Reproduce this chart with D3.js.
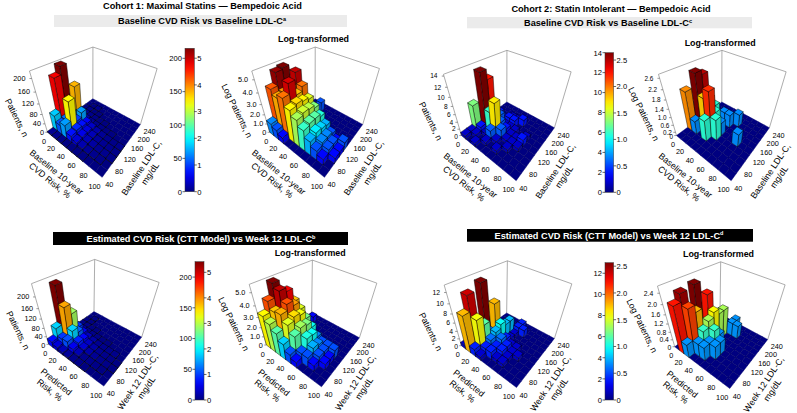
<!DOCTYPE html>
<html>
<head>
<meta charset="utf-8">
<script src="https://cdn.jsdelivr.net/npm/d3@7"></script>
<style>
  body { margin: 0; background: #fff; }
  svg { display: block; }
  text { font-family: "Liberation Sans", Arial, sans-serif; fill: #000; }
</style>
</head>
<body>
<svg id="chart" width="797" height="413"></svg>
<script>
// ---------- data ----------
// risk bins (lower edge, %) and LDL-C bins (lower edge, mg/dL)
const riskBins = [0, 10, 20, 30, 40, 50, 60, 70, 80, 90];
const ldlBins = [40, 60, 80, 100, 120, 140, 160, 180, 200, 220];
const riskTicks = [0, 20, 40, 60, 80, 100];
const ldlTicks = [40, 80, 120, 160, 200, 240];

// patient counts, rows = risk bin, columns = LDL-C bin
const cohort1Baseline = [
  [ 4, 70, 190, 215,  30,  6, 2, 1, 0, 0],
  [ 3, 45,  50,  60, 150, 10, 4, 2, 1, 0],
  [ 2, 60, 135,  40,  60,  8, 3, 1, 3, 0],
  [ 1, 30,  35,  30,  25,  5, 2, 1, 0, 0],
  [ 1, 18,  22,  20,  15,  3, 1, 0, 0, 0],
  [ 1, 10,  12,  12,   9,  2, 1, 0, 0, 0],
  [ 1,  5,   7,   6,   5,  1, 0, 0, 0, 0],
  [ 0,  3,   4,   4,   3,  1, 0, 0, 0, 0],
  [ 0,  2,   3,   3,   2,  0, 0, 0, 0, 0],
  [ 0,  0,   2,   2,   3,  0, 0, 0, 0, 0]
];
const cohort1Week12 = [
  [30, 75, 225,  90, 30, 6, 2, 1, 0, 0],
  [20, 40, 160, 120, 40, 6, 2, 1, 2, 0],
  [12, 45,  75,  50, 25, 4, 1, 0, 0, 0],
  [ 6, 25,  35,  28, 14, 3, 1, 0, 0, 0],
  [ 3, 12,  18,  15,  8, 2, 0, 0, 0, 0],
  [ 2,  3,   9,   8,  4, 1, 0, 0, 0, 0],
  [ 1,  3,   5,   4,  3, 1, 0, 0, 0, 0],
  [ 0,  2,   3,   3,  3, 0, 0, 0, 0, 0],
  [ 0,  1,   2,   2,  3, 0, 0, 0, 0, 0],
  [ 0,  0,   1,   1,  0, 0, 0, 0, 0, 0]
];
const cohort2Baseline = [
  [1, 1, 7,  3,  1, 0, 0, 0, 0, 0],
  [0, 1, 2, 14, 12, 1, 2, 0, 0, 0],
  [1, 0, 1,  6,  5, 3, 1, 0, 0, 0],
  [0, 1, 3,  9,  3, 1, 2, 1, 0, 0],
  [0, 0, 1,  3,  2, 1, 2, 1, 0, 0],
  [0, 1, 0,  1,  1, 1, 0, 2, 0, 0],
  [0, 0, 1,  1,  1, 0, 0, 0, 0, 0],
  [0, 0, 0,  1,  2, 1, 0, 0, 0, 0],
  [0, 0, 0,  0,  0, 0, 0, 0, 0, 0],
  [0, 0, 0,  0,  0, 0, 0, 0, 0, 0]
];
const cohort2Week12 = [
  [1,  2, 3,  2, 1, 0, 0, 0, 0, 0],
  [9, 12, 3, 13, 4, 1, 0, 0, 0, 0],
  [2,  8, 6,  3, 9, 1, 1, 0, 0, 0],
  [1,  2, 3,  4, 5, 4, 4, 0, 0, 0],
  [0,  2, 2,  3, 2, 1, 1, 2, 2, 0],
  [0,  1, 2,  2, 1, 0, 0, 2, 0, 0],
  [0,  1, 1,  1, 1, 0, 0, 0, 0, 0],
  [0,  0, 0,  1, 0, 0, 0, 0, 0, 0],
  [0,  0, 0,  0, 0, 0, 0, 0, 0, 0],
  [0,  0, 0,  0, 0, 0, 0, 0, 0, 0]
];

// z-axis ticks
const zTicksC1Top = [0, 40, 80, 120, 160, 200];
const zTicksC1TopLog = [0, 1, 2, 3, 4, 5];
const zTicksC2Top = [0, 2, 4, 6, 8, 10, 12, 14];
const zTicksC2TopLog = [0, 0.2, 0.6, 1.0, 1.4, 1.8, 2.2, 2.6];
const zTicksC1Bot = [0, 40, 80, 120, 160, 200];
const zTicksC1BotLog = [0, 1, 2, 3, 4, 5];
const zTicksC2Bot = [0, 2, 4, 6, 8, 10, 12];
const zTicksC2BotLog = [0, 0.4, 0.8, 1.2, 1.6, 2.0, 2.4];

// colorbar ticks
const cbarTicksC1 = [0, 50, 100, 150, 200];
const cbarLogTicksC1 = [0, 1, 2, 3, 4, 5];
const cbarTicksC2Top = [0, 2, 4, 6, 8, 10, 12, 14];
const cbarTicksC2Bot = [0, 2, 4, 6, 8, 10, 12];
const cbarLogTicksC2 = [0, 0.5, 1.0, 1.5, 2.0, 2.5];

// ---------- projection ----------
// plot box corners (unit cube) and where they land on screen, relative to the back top corner
const boxWorld = [[0,0,0],[1,0,0],[1,1,0],[0,1,0],[0,0,1],[1,1,1],[0,1,1]];
const boxScreen = [
  [[-45,85.5],[9,131],[48,77],[0,52.5],[-63,24],[64.5,22.5],[0,0]],
  [[-45,85.5],[9,127],[48,77],[0,52.5],[-62,23.5],[65.5,24],[0,0]]
];

// least squares fit of a 3x4 perspective camera matrix (DLT)
function fitProjection(world, screen) {
  const n = 11;
  const M = Array.from({length: n}, () => new Array(n + 1).fill(0));
  const addRow = (r, b) => {
    for (let a = 0; a < n; a++) {
      for (let c = 0; c < n; c++) M[a][c] += r[a] * r[c];
      M[a][n] += r[a] * b;
    }
  };
  world.forEach(([X, Y, Z], k) => {
    const [u, v] = screen[k];
    addRow([X, Y, Z, 1, 0, 0, 0, 0, -u * X, -u * Y, -u * Z], u);
    addRow([0, 0, 0, 0, X, Y, Z, 1, -v * X, -v * Y, -v * Z], v);
  });
  for (let c = 0; c < n; c++) {
    let p = c;
    for (let r = c + 1; r < n; r++) if (Math.abs(M[r][c]) > Math.abs(M[p][c])) p = r;
    [M[c], M[p]] = [M[p], M[c]];
    for (let r = 0; r < n; r++) {
      if (r === c) continue;
      const f = M[r][c] / M[c][c];
      for (let k = c; k <= n; k++) M[r][k] -= f * M[c][k];
    }
  }
  const p = M.map((r, i) => r[n] / r[i]);
  return (X, Y, Z) => {
    const w = p[8] * X + p[9] * Y + p[10] * Z + 1;
    return [(p[0] * X + p[1] * Y + p[2] * Z + p[3]) / w,
            (p[4] * X + p[5] * Y + p[6] * Z + p[7]) / w];
  };
}
const projections = boxScreen.map(s => fitProjection(boxWorld, s));

// MATLAB style jet colormap
function jet(t) {
  const cl = v => Math.max(0, Math.min(1, v));
  const r = cl(Math.min(4 * t - 1.5, -4 * t + 4.5));
  const g = cl(Math.min(4 * t - 0.5, -4 * t + 3.5));
  const b = cl(Math.min(4 * t + 0.5, -4 * t + 2.5));
  return d3.rgb(r * 255, g * 255, b * 255);
}

const svg = d3.select('#chart');
const FONT_TICK = 7.3;
const FONT_LABEL = 8.8;

// ---------- panels ----------
const xTitleTop = ['Baseline 10-year', 'CVD Risk, %'];
const yTitleTop = ['Baseline LDL-C,', 'mg/dL'];
const xTitleBot = ['Predicted', 'Risk, %'];
const yTitleBot = ['Week 12 LDL-C,', 'mg/dL'];

const panels = [
  {counts: cohort1Baseline, log: false, row: 0, origin: [92.7, 46.7], zmax: 220, zTicks: zTicksC1Top, zFont: FONT_TICK},
  {counts: cohort1Baseline, log: true,  row: 0, origin: [315, 46.7],  zmax: 5.6, zTicks: zTicksC1TopLog, zFont: FONT_TICK},
  {counts: cohort2Baseline, log: false, row: 0, origin: [506.7, 50],  zmax: 14.3, zTicks: zTicksC2Top, zFont: 6.6},
  {counts: cohort2Baseline, log: true,  row: 0, origin: [721.7, 50],  zmax: 2.73, zTicks: zTicksC2TopLog, zFont: 6.4},
  {counts: cohort1Week12, log: false, row: 1, origin: [94, 259.3],    zmax: 240, zTicks: zTicksC1Bot, zFont: FONT_TICK},
  {counts: cohort1Week12, log: true,  row: 1, origin: [311.7, 260],   zmax: 5.57, zTicks: zTicksC1BotLog, zFont: FONT_TICK},
  {counts: cohort2Week12, log: false, row: 1, origin: [506.7, 260.7], zmax: 13.2, zTicks: zTicksC2Bot, zFont: 6.8},
  {counts: cohort2Week12, log: true,  row: 1, origin: [720, 261.7],   zmax: 2.63, zTicks: zTicksC2BotLog, zFont: 6.8}
];

function signedArea(pts) {
  let s = 0;
  pts.forEach((p, k) => { const q = pts[(k + 1) % pts.length]; s += p[0] * q[1] - q[0] * p[1]; });
  return s;
}

function multiLine(g, lines, cx, cy, angle, size, lh) {
  const t = g.append('text')
    .attr('transform', `translate(${cx},${cy}) rotate(${angle})`)
    .attr('text-anchor', 'middle')
    .attr('font-size', size);
  lines.forEach((s, k) => t.append('tspan')
    .attr('x', 0)
    .attr('y', (k - (lines.length - 1) / 2) * lh + size * 0.35)
    .text(s));
}

function drawPanel(p) {
  const g = svg.append('g').attr('transform', `translate(${p.origin[0]},${p.origin[1]})`);
  const proj = projections[p.row];
  const xS = d3.scaleLinear().domain([0, 100]).range([0, 1]);
  const yS = d3.scaleLinear().domain([40, 240]).range([0, 1]);
  const zS = d3.scaleLinear().domain([0, p.zmax]).range([0, 1]);
  const pt = (x, y, z) => proj(xS(x), yS(y), zS(z));

  const maxCount = d3.max(p.counts.flat());
  const vmax = p.log ? Math.log(maxCount) : maxCount;
  const color = d3.scaleSequential(jet).domain([0, vmax]);
  const val = c => p.log ? (c > 0 ? Math.log(c) : 0) : c;

  // back walls of the plot box
  const line = d3.line();
  const edges = [
    [[0, 40, 0], [0, 40, p.zmax]],
    [[0, 240, 0], [0, 240, p.zmax]],
    [[100, 240, 0], [100, 240, p.zmax]],
    [[0, 40, p.zmax], [0, 240, p.zmax]],
    [[0, 240, p.zmax], [100, 240, p.zmax]]
  ];
  g.selectAll('path.edge').data(edges).join('path')
    .attr('class', 'edge')
    .attr('d', e => line(e.map(c => pt(...c))))
    .attr('stroke', '#8a8a8a').attr('stroke-width', 0.7).attr('fill', 'none');

  const refSign = Math.sign(signedArea([pt(0, 40, p.zmax), pt(100, 40, p.zmax), pt(100, 240, p.zmax), pt(0, 240, p.zmax)]));

  // cells
  const cells = [];
  riskBins.forEach((rx, i) => ldlBins.forEach((ly, j) => {
    cells.push({i, j, x0: rx, x1: rx + 10, y0: ly, y1: ly + 20, v: val(p.counts[i][j])});
  }));
  const flat = cells.filter(c => c.v <= 0);
  const bars = cells.filter(c => c.v > 0).sort((a, b) => (a.i - a.j) - (b.i - b.j));

  const floorG = g.append('g');
  const cellPath = c => line([pt(c.x0, c.y0, 0), pt(c.x1, c.y0, 0), pt(c.x1, c.y1, 0), pt(c.x0, c.y1, 0)]) + 'Z';
  floorG.selectAll('path.cell').data(flat).join('path')
    .attr('class', 'cell')
    .attr('d', cellPath)
    .attr('fill', color(0))
    .attr('stroke', color(0)).attr('stroke-width', 0.4);
  floorG.selectAll('path.grid').data(flat).join('path')
    .attr('class', 'grid')
    .attr('d', cellPath)
    .attr('fill', 'none')
    .attr('stroke', '#000').attr('stroke-opacity', 0.22).attr('stroke-width', 0.3);

  const barG = g.append('g');
  bars.forEach(c => {
    const h = c.v;
    const faces = [
      {shade: 0.84, pts: [[c.x1, c.y0, 0], [c.x1, c.y1, 0], [c.x1, c.y1, h], [c.x1, c.y0, h]]},
      {shade: 0.84, pts: [[c.x0, c.y0, 0], [c.x0, c.y0, h], [c.x0, c.y1, h], [c.x0, c.y1, 0]]},
      {shade: 0.95, pts: [[c.x0, c.y0, 0], [c.x1, c.y0, 0], [c.x1, c.y0, h], [c.x0, c.y0, h]]},
      {shade: 0.95, pts: [[c.x0, c.y1, 0], [c.x0, c.y1, h], [c.x1, c.y1, h], [c.x1, c.y1, 0]]},
      {shade: 1.0,  pts: [[c.x0, c.y0, h], [c.x1, c.y0, h], [c.x1, c.y1, h], [c.x0, c.y1, h]]}
    ];
    const base = d3.rgb(color(h));
    faces.forEach(f => {
      const sp = f.pts.map(q => pt(...q));
      if (Math.sign(signedArea(sp)) !== refSign) return;
      const col = d3.rgb(base.r * f.shade, base.g * f.shade, base.b * f.shade);
      barG.append('path')
        .attr('d', line(sp) + 'Z')
        .attr('fill', col)
        .attr('stroke', '#000').attr('stroke-width', 0.45)
        .attr('stroke-linejoin', 'round');
    });
  });

  // z axis ticks and labels
  const fmt = v => v === 0 ? '0' : (p.log ? d3.format('.1f')(v) : String(v));
  p.zTicks.forEach(t => {
    const [x, y] = pt(0, 40, t);
    const off = 3.5 + 3 * zS(t);
    g.append('line').attr('x1', x).attr('y1', y).attr('x2', x - 2.2).attr('y2', y)
      .attr('stroke', '#555').attr('stroke-width', 0.6);
    g.append('text').attr('x', x - off).attr('y', y + (t === 0 ? 3.2 : 2.3))
      .attr('text-anchor', 'end').attr('font-size', p.zFont).text(fmt(t));
  });
  // risk axis labels
  riskTicks.forEach(t => {
    const [x, y] = pt(t, 40, 0);
    g.append('text').attr('x', x - 1.5).attr('y', y + 11.5)
      .attr('text-anchor', 'end').attr('font-size', FONT_TICK).text(t);
  });
  // LDL axis labels
  ldlTicks.forEach(t => {
    const [x, y] = pt(100, t, 0);
    g.append('text').attr('x', x + 3).attr('y', y + 10)
      .attr('text-anchor', 'start').attr('font-size', FONT_TICK).text(t);
  });

  // axis titles
  const top = p.row === 0;
  multiLine(g, top ? xTitleTop : xTitleBot, top ? -39.5 : -41, top ? 129.5 : 126.5, 39, FONT_LABEL, 10.5);
  multiLine(g, top ? yTitleTop : yTitleBot, top ? 53 : 48, top ? 124 : 125.5, -56, FONT_LABEL, 10.5);
  multiLine(g, [p.log ? 'Log Patients, n' : 'Patients, n'], p.log ? -78 : -76, p.log ? 64 : 71, 64, FONT_LABEL, 10.5);

  if (p.log) {
    g.append('text').attr('x', -1.5).attr('y', -4.5)
      .attr('text-anchor', 'middle').attr('font-size', 8.9).attr('font-weight', 'bold')
      .text('Log-transformed');
  }
}

panels.forEach(drawPanel);

// ---------- colorbars ----------
const defs = svg.append('defs');
const grad = defs.append('linearGradient').attr('id', 'jetGrad')
  .attr('x1', 0).attr('y1', 1).attr('x2', 0).attr('y2', 0);
d3.range(0, 1.0001, 0.05).forEach(t => grad.append('stop').attr('offset', t).attr('stop-color', jet(t)));

const colorbars = [
  {x: 185, y: 48.3, w: 9.3, h: 143.4, counts: cohort1Baseline, ticks: cbarTicksC1, logTicks: cbarLogTicksC1, logFmt: d3.format('d')},
  {x: 605, y: 52.7, w: 8.6, h: 139.6, counts: cohort2Baseline, ticks: cbarTicksC2Top, logTicks: cbarLogTicksC2, logFmt: v => v === 0 ? '0' : d3.format('.1f')(v)},
  {x: 195, y: 261.7, w: 9, h: 138.3, counts: cohort1Week12, ticks: cbarTicksC1, logTicks: cbarLogTicksC1, logFmt: d3.format('d')},
  {x: 605, y: 262.7, w: 8.6, h: 137.3, counts: cohort2Week12, ticks: cbarTicksC2Bot, logTicks: cbarLogTicksC2, logFmt: v => v === 0 ? '0' : d3.format('.1f')(v)}
];

colorbars.forEach(cb => {
  const g = svg.append('g');
  const maxCount = d3.max(cb.counts.flat());
  const yLin = d3.scaleLinear().domain([0, maxCount]).range([cb.y + cb.h, cb.y]);
  const yLog = d3.scaleLinear().domain([0, Math.log(maxCount)]).range([cb.y + cb.h, cb.y]);
  g.append('rect').attr('x', cb.x).attr('y', cb.y).attr('width', cb.w).attr('height', cb.h)
    .attr('fill', 'url(#jetGrad)').attr('stroke', '#333').attr('stroke-width', 0.5);
  cb.ticks.forEach(t => {
    const y = yLin(t);
    g.append('line').attr('x1', cb.x - 2.5).attr('x2', cb.x).attr('y1', y).attr('y2', y)
      .attr('stroke', '#000').attr('stroke-width', 0.6);
    g.append('text').attr('x', cb.x - 3).attr('y', y + 2.8).attr('text-anchor', 'end')
      .attr('font-size', 7.6).text(t);
  });
  cb.logTicks.forEach(t => {
    const y = yLog(t);
    g.append('line').attr('x1', cb.x + cb.w).attr('x2', cb.x + cb.w + 2.5).attr('y1', y).attr('y2', y)
      .attr('stroke', '#000').attr('stroke-width', 0.6);
    g.append('text').attr('x', cb.x + cb.w + 3).attr('y', y + 2.8).attr('text-anchor', 'start')
      .attr('font-size', 7.6).text(cb.logFmt(t));
  });
});

// ---------- headings ----------
const headings = [
  {text: 'Cohort 1: Maximal Statins \u2014 Bempedoic Acid', x: 202.5, y: 9.3},
  {text: 'Cohort 2: Statin Intolerant \u2014 Bempedoic Acid', x: 611, y: 12.3}
];
headings.forEach(h => svg.append('text').attr('x', h.x).attr('y', h.y)
  .attr('text-anchor', 'middle').attr('font-size', 9.2).attr('font-weight', 'bold').text(h.text));

const bands = [
  {x: 54, y: 15, w: 293, h: 12, fill: '#ebebeb', ink: '#000', cx: 202, text: 'Baseline CVD Risk vs Baseline LDL-C', sup: 'a'},
  {x: 467, y: 17, w: 285, h: 11.3, fill: '#ebebeb', ink: '#000', cx: 608, text: 'Baseline CVD Risk vs Baseline LDL-C', sup: 'c'},
  {x: 53, y: 232, w: 295, h: 13, fill: '#000', ink: '#fff', cx: 201, text: 'Estimated CVD Risk (CTT Model) vs Week 12 LDL-C', sup: 'b'},
  {x: 467, y: 229, w: 286, h: 12.7, fill: '#000', ink: '#fff', cx: 609, text: 'Estimated CVD Risk (CTT Model) vs Week 12 LDL-C', sup: 'd'}
];
bands.forEach(b => {
  svg.append('rect').attr('x', b.x).attr('y', b.y).attr('width', b.w).attr('height', b.h).attr('fill', b.fill);
  const t = svg.append('text').attr('x', b.cx).attr('y', b.y + b.h / 2 + 3.3)
    .attr('text-anchor', 'middle').attr('font-size', 9.2).attr('font-weight', 'bold')
    .style('fill', b.ink);
  t.append('tspan').text(b.text);
  t.append('tspan').attr('font-size', 5.5).attr('dy', -3.2).text(b.sup);
});
</script>
</body>
</html>
